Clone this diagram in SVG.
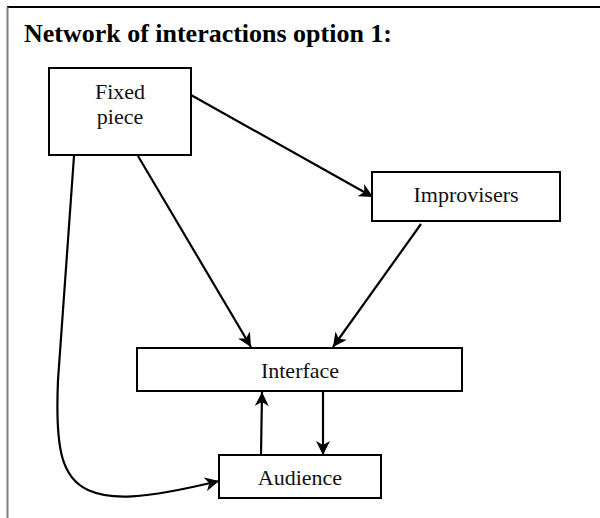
<svg xmlns="http://www.w3.org/2000/svg" width="600" height="518" viewBox="0 0 600 518">
<style>
.box{fill:#fff;stroke:#000;stroke-width:2}
.lbl{font-family:"Liberation Serif","DejaVu Serif",serif;font-size:22px;fill:#111;text-anchor:middle}
.title{font-family:"Liberation Serif","DejaVu Serif",serif;font-size:26px;font-weight:bold;fill:#000}
.edge{fill:none;stroke:#000;stroke-width:2.2}
</style>
<defs>
<marker id="arr" markerWidth="16" markerHeight="14" refX="14" refY="7" orient="auto" markerUnits="userSpaceOnUse">
<path d="M0,0 L14,7 L0,14 L4,7 Z" fill="#000"/>
</marker>
</defs>
<rect x="0" y="0" width="600" height="518" fill="#fff"/>
<line x1="7" y1="7" x2="600" y2="7" stroke="#000" stroke-width="2"/>
<line x1="7.5" y1="7" x2="7.5" y2="518" stroke="#7f7f7f" stroke-width="2"/>
<text class="title" x="24" y="42" textLength="368" lengthAdjust="spacingAndGlyphs">Network of interactions option 1:</text>
<g id="connectors">
<line class="edge" x1="191" y1="95" x2="373" y2="197" marker-end="url(#arr)"/>
<line class="edge" x1="138" y1="156" x2="251" y2="347" marker-end="url(#arr)"/>
<line class="edge" x1="421" y1="224" x2="333" y2="347" marker-end="url(#arr)"/>
<path class="edge" d="M74,156 L58,380 C55,450 62,478 88,490 C110,500 140,500 219,481" marker-end="url(#arr)"/>
<line class="edge" x1="261" y1="455" x2="262" y2="392" marker-end="url(#arr)"/>
<line class="edge" x1="323" y1="392" x2="323" y2="455" marker-end="url(#arr)"/>
</g>
<g id="fixed-piece">
<rect class="box" x="49" y="68" width="142" height="87"/>
<text class="lbl" x="120" y="99">Fixed</text>
<text class="lbl" x="120" y="124">piece</text>
</g>
<g id="improvisers">
<rect class="box" x="372" y="172" width="188" height="49"/>
<text class="lbl" x="466" y="202">Improvisers</text>
</g>
<g id="interface">
<rect class="box" x="137" y="348" width="325" height="43"/>
<text class="lbl" x="300" y="378">Interface</text>
</g>
<g id="audience">
<rect class="box" x="219" y="455" width="162" height="43"/>
<text class="lbl" x="300" y="485">Audience</text>
</g>
</svg>
